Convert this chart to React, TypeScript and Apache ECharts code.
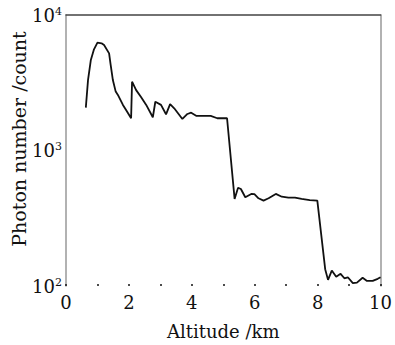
import React, { useEffect, useRef } from "react";
import * as echarts from "echarts";

const altitude = [
  0.63, 0.7, 0.79, 0.89, 1.0, 1.13, 1.21, 1.37, 1.42, 1.49, 1.58, 1.65, 1.81, 1.91, 2.07, 2.1,
  2.23, 2.39, 2.55, 2.76, 2.84, 3.02, 3.18, 3.31, 3.44, 3.7, 3.86, 3.98, 4.15, 4.6, 4.81, 5.12,
  5.36, 5.47, 5.56, 5.7, 5.89, 5.99, 6.12, 6.28, 6.44, 6.67, 6.86, 7.07, 7.28, 7.49, 7.75, 7.99,
  8.24, 8.33, 8.45, 8.59, 8.73, 8.85, 8.96, 9.12, 9.25, 9.43, 9.57, 9.75, 9.91, 10.0,
];
const photonCount = [
  2070, 3310, 4660, 5580, 6250, 6180, 6000, 5210, 4280, 3310, 2720, 2570, 2170, 1990, 1730, 3220,
  2790, 2470, 2170, 1760, 2290, 2170, 1850, 2200, 2050, 1710, 1860, 1900, 1800, 1800, 1730, 1730,
  439, 531, 520, 452, 478, 476, 444, 427, 444, 478, 456, 449, 449, 439, 431, 427,
  133, 111, 130, 117, 123, 114, 116, 105, 106, 115, 109, 109, 113, 116,
];
const xTicks = [0, 2, 4, 6, 8, 10];
const yTicks = [100, 1000, 10000];

const FONT = "DejaVu Serif";

export default function App() {
  const ref = useRef<HTMLDivElement>(null);
  useEffect(() => {
    if (!ref.current) return;
    const chart = echarts.init(ref.current, null, { renderer: "svg" });
    const data = altitude.map((x, i) => [x, photonCount[i]]);
    chart.setOption({
      animation: false,
      textStyle: { fontFamily: FONT },
      grid: { left: 66, right: 11, top: 15, bottom: 59 },
      xAxis: [
        {
          type: "value",
          min: xTicks[0],
          max: xTicks[xTicks.length - 1],
          interval: 2,
          position: "bottom",
          name: "Altitude /km",
          nameLocation: "middle",
          nameGap: 36,
          nameTextStyle: { fontFamily: FONT, fontSize: 18, color: "#111" },
          axisLine: { show: false },
          axisTick: { show: true, inside: true, length: 2, lineStyle: { color: "#111", width: 1.5 } },
          minorTick: { show: true, splitNumber: 2, length: 2, lineStyle: { color: "#111", width: 1.5 } },
          splitLine: { show: false },
          axisLabel: {
            margin: 7,
            formatter: (v: number) => "{b|" + v + "}",
            rich: { b: { fontFamily: FONT, fontSize: 18, color: "#111" } },
            fontFamily: FONT,
            fontSize: 18,
            color: "#111",
          },
        },
        {
          type: "value",
          min: 0,
          max: 10,
          position: "top",
          axisLine: { show: true, onZero: false, lineStyle: { color: "#444", width: 1.5 } },
          axisTick: { show: false },
          axisLabel: { show: false },
          splitLine: { show: false },
        },
      ],
      yAxis: [
        {
          type: "log",
          logBase: 10,
          min: yTicks[0],
          max: yTicks[yTicks.length - 1],
          position: "left",
          axisLine: { show: true, onZero: false, lineStyle: { color: "#999", width: 1.5 } },
          axisTick: { show: false },
          splitLine: { show: false },
          axisLabel: {
            margin: 4,
            formatter: (v: number) => "{b|10}{s|" + Math.round(Math.log10(v)) + "}",
            rich: {
              b: { fontFamily: FONT, fontSize: 18, color: "#111" },
              s: { fontFamily: FONT, fontSize: 11, color: "#111", verticalAlign: "top", padding: [0, 0, 8, 0] },
            },
            fontFamily: FONT,
            fontSize: 18,
            color: "#111",
          },
        },
        {
          type: "log",
          logBase: 10,
          min: 100,
          max: 10000,
          position: "right",
          axisLine: { show: true, onZero: false, lineStyle: { color: "#999", width: 1.5 } },
          axisTick: { show: false },
          axisLabel: { show: false },
          splitLine: { show: false },
        },
      ],
      graphic: [
        {
          type: "text",
          x: 19,
          y: 139,
          rotation: Math.PI / 2,
          style: {
            text: "Photon number /count",
            fontFamily: FONT,
            fontSize: 19,
            fill: "#111",
            align: "center",
            verticalAlign: "middle",
          },
        },
      ],
      series: [
        {
          type: "line",
          data,
          showSymbol: false,
          symbol: "none",
          lineStyle: { color: "#111", width: 1.8 },
          xAxisIndex: 0,
          yAxisIndex: 0,
        },
      ],
    });
    return () => chart.dispose();
  }, []);
  return (
    <div
      ref={ref}
      style={{ position: "fixed", left: 0, top: 0, width: 395, height: 345, background: "#fff" }}
    />
  );
}
